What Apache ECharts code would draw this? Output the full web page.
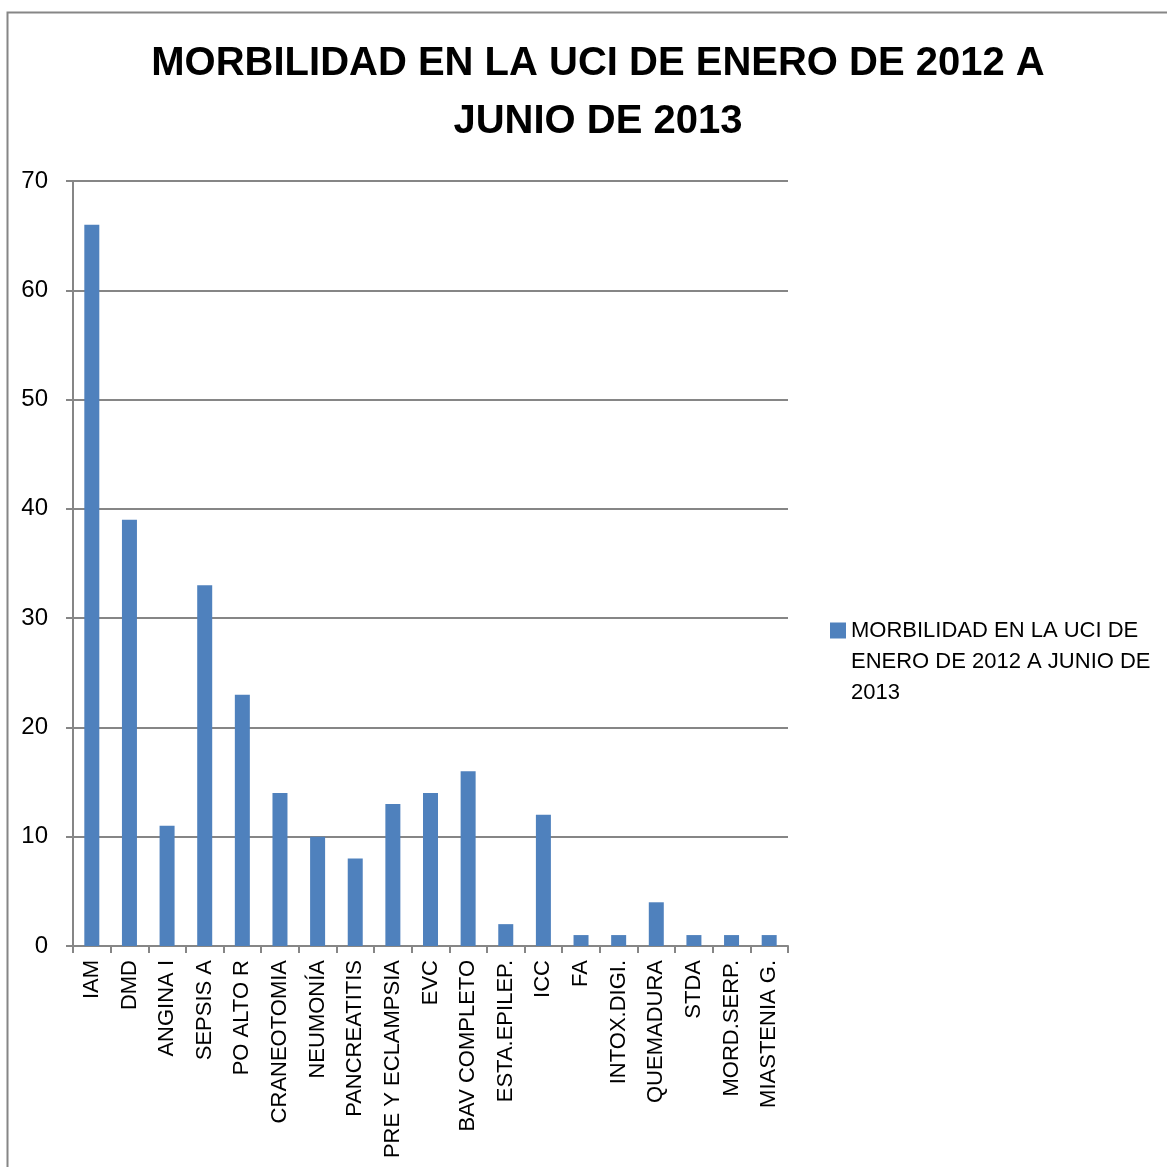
<!DOCTYPE html>
<html>
<head>
<meta charset="utf-8">
<script src="https://cdn.jsdelivr.net/npm/echarts@6/dist/echarts.min.js"></script>
<style>
html,body{margin:0;padding:0;background:#fff;}
#chart{width:1167px;height:1167px;}
</style>
</head>
<body>
<div id="chart"></div>
<script>
const titleText = 'MORBILIDAD EN LA UCI DE ENERO DE 2012 A\nJUNIO DE 2013';
const seriesName = 'MORBILIDAD EN LA UCI DE ENERO DE 2012 A JUNIO DE 2013';
const legendLines = ['MORBILIDAD EN LA UCI DE', 'ENERO DE 2012 A JUNIO DE', '2013'];
const categories = ['IAM','DMD','ANGINA I','SEPSIS A','PO ALTO R','CRANEOTOMIA','NEUMONÍA','PANCREATITIS','PRE Y ECLAMPSIA','EVC','BAV COMPLETO','ESTA.EPILEP.','ICC','FA','INTOX.DIGI.','QUEMADURA','STDA','MORD.SERP.','MIASTENIA G.'];
const values = [66,39,11,33,23,14,10,8,13,14,16,2,12,1,1,4,1,1,1];
const yTicks = [0,10,20,30,40,50,60,70];

const FONT = '"Liberation Sans Narrow", "Liberation Sans", Arial, sans-serif';
const chart = echarts.init(document.getElementById('chart'));
chart.setOption({
  backgroundColor: '#fff',
  animation: false,
  title: {
    text: titleText,
    left: 593, top: 30, textAlign: 'center',
    textStyle: {fontFamily: FONT, fontWeight: 'bold', fontSize: 40, lineHeight: 58, color: '#000'}
  },
  legend: {
    left: 830, top: 553, orient: 'vertical', padding: 0,
    itemWidth: 16, itemHeight: 16, itemGap: 6,
    icon: 'rect',
    formatter: function(){ return '\u00a0\n\u00a0\n' + legendLines.join('\n'); },
    textStyle: {fontFamily: FONT, fontSize: 22, lineHeight: 31, color: '#000'}
  },
  grid: {left: 73, right: 379, top: 181, bottom: 221, containLabel: false},
  xAxis: {
    type: 'category', data: categories,
    axisLine: {lineStyle: {color: '#868686', width: 2}},
    axisTick: {show: true, length: 7, interval: 0, lineStyle: {color: '#868686', width: 2}},
    axisLabel: {rotate: 90, interval: 0, margin: 14, fontFamily: FONT, fontSize: 22, color: '#000'}
  },
  yAxis: {
    type: 'value', min: 0, max: 70, interval: 10,
    axisLine: {show: true, lineStyle: {color: '#868686', width: 2}},
    axisTick: {show: true, length: 7, lineStyle: {color: '#868686', width: 2}},
    splitLine: {lineStyle: {color: '#868686', width: 2}},
    axisLabel: {margin: 25, fontFamily: FONT, fontSize: 24, color: '#000',
      formatter: function(v){ return yTicks.indexOf(v) >= 0 ? String(v) : ''; }}
  },
  series: [{
    name: seriesName, type: 'bar', data: values,
    barWidth: 15,
    itemStyle: {color: '#4F81BD'}
  }],
  graphic: [{
    type: 'rect', left: 5, top: 10, silent: true,
    shape: {x: 0, y: 0, width: 1200, height: 1200},
    style: {fill: 'none', stroke: '#868686', lineWidth: 2}
  }]
});
</script>
</body>
</html>
